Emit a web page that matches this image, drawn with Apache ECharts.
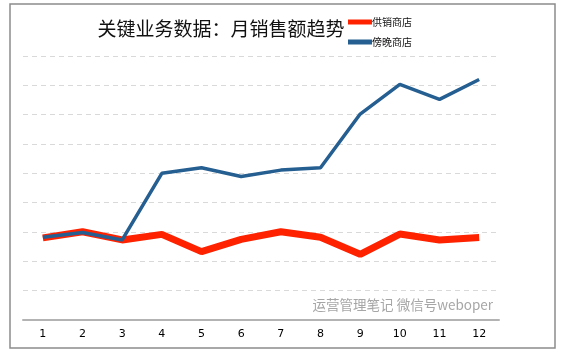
<!DOCTYPE html>
<html><head><meta charset="utf-8">
<script src="https://cdn.jsdelivr.net/npm/echarts@6/dist/echarts.min.js"></script>
<style>html,body{margin:0;padding:0;background:#fff}#c{width:565px;height:356px}</style>
</head><body><div id="c"></div>
<script>
var titleText = '关键业务数据：月销售额趋势';
var watermark = '运营管理笔记 微信号weboper';
var months = ['1','2','3','4','5','6','7','8','9','10','11','12'];
var seriesNames = ['供销商店','傍晚商店'];
var storeA = [2.80, 3.01, 2.73, 2.92, 2.33, 2.75, 3.01, 2.82, 2.24, 2.93, 2.73, 2.81];
var storeB = [2.82, 2.98, 2.73, 5.00, 5.19, 4.89, 5.11, 5.19, 7.02, 8.03, 7.52, 8.20];

var chart = echarts.init(document.getElementById('c'), null, {renderer:'canvas'});
chart.setOption({
  animation:false,
  title:{text:titleText, left:216, top:14, textAlign:'center',
    textStyle:{fontSize:19, fontWeight:'normal', color:'#111', fontFamily:'Noto Sans CJK SC'}},
  legend:{orient:'vertical', left:343, top:12, itemWidth:24, itemHeight:5, itemGap:10,
    icon:'rect',
    textStyle:{fontSize:10, color:'#111', padding:[0,0,0,-5], fontFamily:'Noto Sans CJK SC'},
    data:seriesNames},
  grid:{left:23, right:66, top:56, bottom:36, containLabel:false},
  xAxis:{type:'category', data:months, boundaryGap:true,
    axisLine:{lineStyle:{color:'#b3b3b3', width:2}},
    axisTick:{show:false},
    axisLabel:{color:'#000', fontSize:11, margin:9, fontFamily:'DejaVu Sans'}},
  yAxis:{type:'value', min:0, max:9, interval:1,
    axisLabel:{show:false}, axisLine:{show:false}, axisTick:{show:false},
    splitLine:{lineStyle:{color:'#d9d9d9', type:[5,4], width:1}}},
  graphic:[
    {type:'rect', shape:{x:10, y:4, width:545, height:344}, style:{fill:'none', stroke:'#8c8c8c', lineWidth:1.5}, z:-1},
    {type:'text', right:72, top:298, style:{text:watermark, fill:'#a6a6a6', fontSize:13.5, fontFamily:'Noto Sans CJK SC'}}
  ],
  series:[
    {name:seriesNames[0], type:'line', data:storeA, symbol:'none', z:2,
      itemStyle:{color:'#ff2200'}, lineStyle:{color:'#ff2200', width:7}},
    {name:seriesNames[1], type:'line', data:storeB, symbol:'none', z:3,
      itemStyle:{color:'#255e91'}, lineStyle:{color:'#255e91', width:3.5}}
  ]
});
</script></body></html>
